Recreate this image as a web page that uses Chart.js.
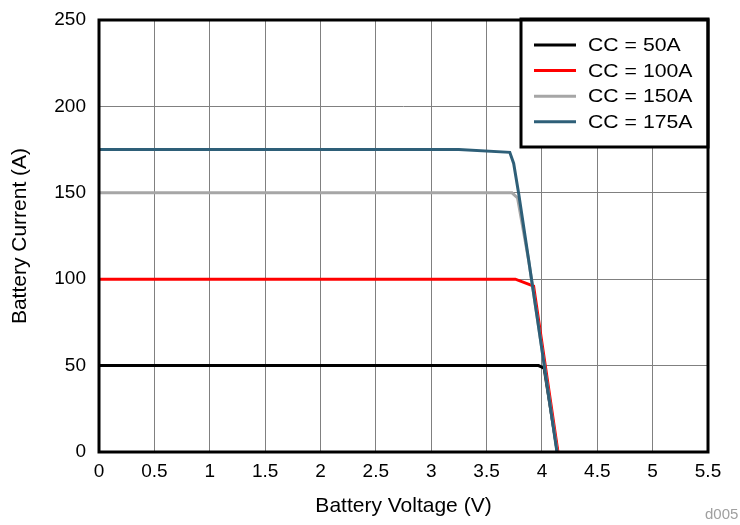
<!DOCTYPE html>
<html>
<head>
<meta charset="utf-8">
<script src="https://cdn.jsdelivr.net/npm/chart.js@4.4.0/dist/chart.umd.min.js"></script>
<style>
html,body{margin:0;padding:0;background:#fff;}
#wrap{width:740px;height:525px;position:relative;}
</style>
</head>
<body>
<div id="wrap"><canvas id="c" width="740" height="525"></canvas></div>
<script>
const seriesLabels = ['CC = 50A', 'CC = 100A', 'CC = 150A', 'CC = 175A'];
const seriesColors = ['#000000', '#ff0000', '#a6a6a6', '#2e5f78'];

const v50  = [0, 3.97, 4.02, 4.14];
const i50  = [50, 50, 48.5, 0];
const v100 = [0, 3.76, 3.925, 4.145];
const i100 = [100, 100, 96, 0];
const v150 = [0, 3.73, 3.78, 3.88, 3.956, 4.138];
const i150 = [150, 150, 147, 111, 78.5, 0];
const v175 = [0, 3.25, 3.71, 3.745, 3.79, 3.88, 3.956, 4.136];
const i175 = [175, 175, 173.4, 167, 149.6, 111.2, 78.5, 0];

const xTicks = [0, 0.5, 1, 1.5, 2, 2.5, 3, 3.5, 4, 4.5, 5, 5.5];
const yTicks = [0, 50, 100, 150, 200, 250];

const xs = [v50, v100, v150, v175];
const ys = [i50, i100, i150, i175];
const drawOrder = [3, 2, 1, 0];

const datasets = seriesLabels.map((lab, k) => ({
  label: lab,
  data: xs[k].map((v, j) => ({x: v, y: ys[k][j]})),
  borderColor: seriesColors[k],
  backgroundColor: seriesColors[k],
  borderWidth: 3,
  pointRadius: 0,
  tension: 0,
  fill: false,
  order: drawOrder[k]
}));

const FONT = 'Liberation Sans, Arial, sans-serif';

const legendPlugin = {
  id: 'boxLegend',
  afterDatasetsDraw(chart) {
    const ctx = chart.ctx;
    ctx.save();
    const bx = 521, by = 19, bw = 187, bh = 128;
    ctx.fillStyle = '#fff';
    ctx.fillRect(bx, by, bw, bh);
    ctx.strokeStyle = '#000';
    ctx.lineWidth = 3;
    ctx.strokeRect(bx, by, bw, bh);
    seriesLabels.forEach((lab, k) => {
      const y = 45 + k * 25.6;
      ctx.strokeStyle = seriesColors[k];
      ctx.lineWidth = 3;
      ctx.beginPath();
      ctx.moveTo(534, y);
      ctx.lineTo(576, y);
      ctx.stroke();
      ctx.save();
      ctx.translate(588, y + 1);
      ctx.scale(1.18, 1);
      ctx.font = '18px ' + FONT;
      ctx.textBaseline = 'middle';
      ctx.textAlign = 'left';
      ctx.fillStyle = '#000';
      ctx.fillText(lab, 0, 0);
      ctx.restore();
    });
    ctx.restore();
  },
  afterDraw(chart) {
    const ctx = chart.ctx;
    const a = chart.chartArea;
    ctx.save();
    ctx.strokeStyle = '#000';
    ctx.lineWidth = 3;
    ctx.strokeRect(a.left, a.top, a.right - a.left, a.bottom - a.top);
    ctx.font = '15px ' + FONT;
    ctx.fillStyle = '#a0a0a0';
    ctx.textAlign = 'left';
    ctx.textBaseline = 'middle';
    ctx.fillText('d005', 705, 515);
    ctx.restore();
  }
};

new Chart(document.getElementById('c'), {
  type: 'line',
  data: { datasets },
  options: {
    responsive: false,
    animation: false,
    layout: { padding: { top: 20, right: 32, left: 0, bottom: 0 } },
    plugins: { legend: { display: false }, tooltip: { enabled: false } },
    scales: {
      x: {
        type: 'linear',
        min: 0, max: 5.5,
        afterBuildTicks: s => { s.ticks = xTicks.map(v => ({value: v})); },
        afterFit: s => { s.height = 73; s.paddingLeft = 0; s.paddingRight = 0; },
        grid: { color: '#808080', lineWidth: 1, drawTicks: false },
        border: { display: false },
        ticks: { color: '#000', font: { family: FONT, size: 19 }, padding: 8, maxRotation: 0,
                 callback: v => String(v) },
        title: { display: true, text: 'Battery Voltage (V)', color: '#000',
                 font: { family: FONT, size: 21 }, padding: { top: 0, bottom: 6 } }
      },
      y: {
        min: 0, max: 250,
        afterBuildTicks: s => { s.ticks = yTicks.map(v => ({value: v})); },
        afterFit: s => { s.width = 99; s.paddingTop = 0; s.paddingBottom = 0; },
        grid: { color: '#808080', lineWidth: 1, drawTicks: false },
        border: { display: false },
        ticks: { color: '#000', font: { family: FONT, size: 19 }, padding: 13,
                 callback: v => String(v) },
        title: { display: true, text: 'Battery Current (A)', color: '#000',
                 font: { family: FONT, size: 21 }, padding: { top: 8, bottom: 0 } }
      }
    }
  },
  plugins: [legendPlugin]
});
</script>
</body>
</html>
